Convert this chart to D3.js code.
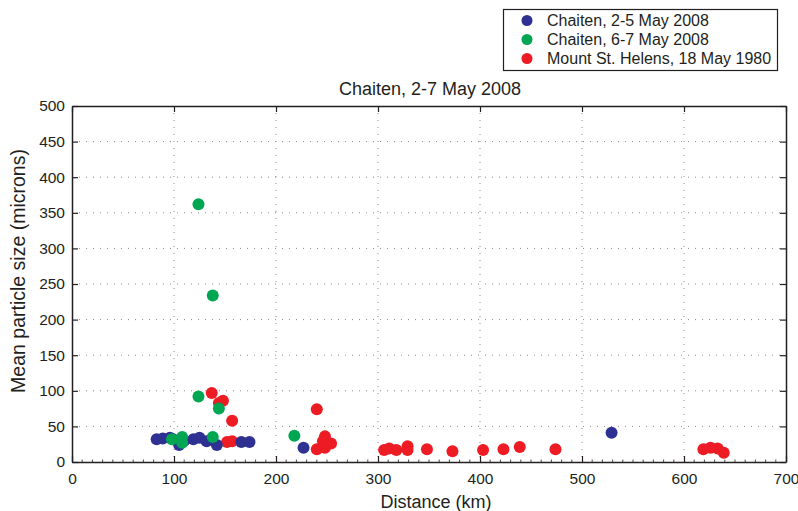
<!DOCTYPE html>
<html>
<head>
<meta charset="utf-8">
<script src="https://cdn.jsdelivr.net/npm/d3@7"></script>
<style>
  html, body { margin: 0; padding: 0; background: #fff; }
  svg { display: block; font-family: "Liberation Sans", Arial, Helvetica, sans-serif; }
</style>
</head>
<body>
<svg id="chart" width="798" height="511"></svg>
<script>
// Distance (km) and mean particle size (microns) for each sampling set
const chaiten25Dist = [83, 89, 96, 99, 105, 110, 119, 125, 132, 142, 166, 174, 227, 529];
const chaiten25Size = [32, 33, 34, 32, 24, 30, 32, 34, 29, 24, 28, 28, 20, 41];

const chaiten67Dist = [98, 108, 108, 124, 124, 138, 144, 138, 218];
const chaiten67Size = [32, 35, 27, 92, 362, 234, 75, 35, 37];

const helensDist = [137, 144, 148, 157, 152, 157, 240, 240, 248, 246, 254, 248,
                    306, 311, 318, 329, 329, 348, 373, 403, 423, 439, 474,
                    619, 626, 633, 639];
const helensSize = [97, 83, 86, 58, 28, 29, 74, 18, 36, 29, 26, 20,
                    17, 19, 17, 22, 17, 18, 15, 17, 18, 21, 18,
                    18, 20, 19, 13];

const xTicks = [0, 100, 200, 300, 400, 500, 600, 700];
const yTicks = [0, 50, 100, 150, 200, 250, 300, 350, 400, 450, 500];

const seriesNames = ["Chaiten, 2-5 May 2008", "Chaiten, 6-7 May 2008", "Mount St. Helens, 18 May 1980"];
const seriesColors = ["#2e3192", "#00a651", "#ed1c24"];

const titleText = "Chaiten, 2-7 May 2008";
const xLabel = "Distance (km)";
const yLabel = "Mean particle size (microns)";

const svg = d3.select("#chart");
const ink = "#231f20";

const plot = { left: 72, right: 786, top: 106, bottom: 462 };

const x = d3.scaleLinear().domain([0, 700]).range([plot.left, plot.right]);
const y = d3.scaleLinear().domain([0, 500]).range([plot.bottom, plot.top]);

// dotted grid
const grid = svg.append("g");
grid.selectAll("line.vg").data(xTicks.slice(1, -1)).join("line")
  .attr("x1", d => x(d)).attr("x2", d => x(d))
  .attr("y1", plot.top).attr("y2", plot.bottom)
  .attr("stroke", "#8a8a8a").attr("stroke-width", 1)
  .attr("stroke-dasharray", "1,6");
grid.selectAll("line.hg").data(yTicks.slice(1, -1)).join("line")
  .attr("x1", plot.left).attr("x2", plot.right)
  .attr("y1", d => y(d)).attr("y2", d => y(d))
  .attr("stroke", "#8a8a8a").attr("stroke-width", 1)
  .attr("stroke-dasharray", "1,6");

// minor ticks on x axis
const minorX = d3.range(10, 700, 10).filter(v => v % 100 !== 0);
svg.append("g").selectAll("line").data(minorX).join("line")
  .attr("x1", d => x(d)).attr("x2", d => x(d))
  .attr("y1", plot.bottom).attr("y2", plot.bottom - 2.5)
  .attr("stroke", ink).attr("stroke-width", 0.8);

// axes with inward ticks
const xAxis = d3.axisBottom(x).tickValues(xTicks).tickSizeInner(-6).tickSizeOuter(0).tickPadding(11);
const yAxis = d3.axisLeft(y).tickValues(yTicks).tickSizeInner(-6).tickSizeOuter(0).tickPadding(7);
const yAxisR = d3.axisRight(y).tickValues(yTicks).tickSizeInner(-6).tickSizeOuter(0).tickFormat("");
const xAxisT = d3.axisTop(x).tickValues(xTicks).tickSizeInner(-6).tickSizeOuter(0).tickFormat("");

function styleAxis(g) {
  g.select(".domain").attr("stroke", ink).attr("stroke-width", 1.5);
  g.selectAll(".tick line").attr("stroke", ink).attr("stroke-width", 1.2);
  g.selectAll(".tick text").attr("fill", ink).attr("font-size", 15.5)
    .attr("font-family", "Liberation Sans, Arial, sans-serif");
}

svg.append("g").attr("transform", `translate(0,${plot.top})`).call(xAxisT).call(styleAxis);
svg.append("g").attr("transform", `translate(${plot.right},0)`).call(yAxisR).call(styleAxis);
svg.append("g").attr("transform", `translate(0,${plot.bottom})`).call(xAxis).call(styleAxis);
svg.append("g").attr("transform", `translate(${plot.left},0)`).call(yAxis).call(styleAxis);

// points
const r = 6;
function drawSeries(dist, size, color) {
  svg.append("g").selectAll("circle")
    .data(dist.map((d, i) => [d, size[i]])).join("circle")
    .attr("cx", d => x(d[0])).attr("cy", d => y(d[1]))
    .attr("r", r).attr("fill", color);
}
drawSeries(helensDist, helensSize, seriesColors[2]);
drawSeries(chaiten25Dist, chaiten25Size, seriesColors[0]);
drawSeries(chaiten67Dist, chaiten67Size, seriesColors[1]);

// title and axis labels
svg.append("text").attr("x", 430).attr("y", 95)
  .attr("text-anchor", "middle").attr("font-size", 18).attr("fill", ink).text(titleText);
svg.append("text").attr("x", 436).attr("y", 508)
  .attr("text-anchor", "middle").attr("font-size", 18).attr("fill", ink).text(xLabel);
svg.append("text")
  .attr("transform", `translate(25,${271}) rotate(-90)`)
  .attr("text-anchor", "middle").attr("font-size", 19.5).attr("fill", ink).text(yLabel);

// legend
const legend = svg.append("g");
legend.append("rect").attr("x", 503.5).attr("y", 9.5).attr("width", 274).attr("height", 61)
  .attr("fill", "#fff").attr("stroke", ink).attr("stroke-width", 1.2);
seriesNames.forEach((name, i) => {
  const cy = 20.5 + i * 19;
  legend.append("circle").attr("cx", 527).attr("cy", cy).attr("r", 5.5).attr("fill", seriesColors[i]);
  legend.append("text").attr("x", 547).attr("y", cy + 5.5)
    .attr("font-size", 16).attr("fill", ink).text(name);
});
</script>
</body>
</html>
